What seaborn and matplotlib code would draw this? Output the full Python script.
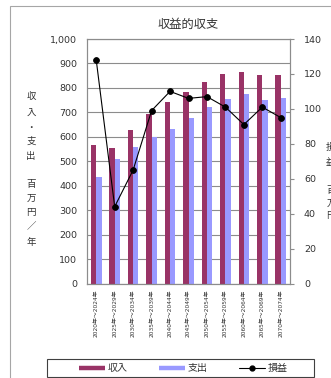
import matplotlib
matplotlib.use("Agg")
import matplotlib.pyplot as plt
from matplotlib.lines import Line2D
from matplotlib.patches import Rectangle
from matplotlib.ticker import FuncFormatter
import numpy as np
import pandas as pd
import seaborn as sns

# 5-year periods
periods = ["2020年～2024年", "2025年～2029年", "2030年～2034年", "2035年～2039年",
           "2040年～2044年", "2045年～2049年", "2050年～2054年", "2055年～2059年",
           "2060年～2064年", "2065年～2069年", "2070年～2074年"]
# revenue / expenditure (million yen per year)
revenue = [566, 553, 627, 695, 744, 785, 825, 856, 866, 853, 853]
expense = [437, 508, 560, 600, 632, 678, 722, 755, 776, 752, 757]
# profit / loss (million yen)
profit = [128, 44, 65, 99, 110, 106, 107, 101, 91, 101, 95]

series_names = ["収入", "支出"]
line_name = "損益"
title = "収益的収支"
left_label = "収入・支出　百万円／年"
right_label = "損益　百万円"

RED = "#993366"
BLUE = "#9999FF"
GRID = "#8c8c8c"
TXT = "#333333"

sns.set_style("white")
plt.rcParams["font.family"] = ["DejaVu Sans", "Noto Sans CJK JP"]

df = pd.DataFrame({
    "期間": periods * 2,
    "金額": revenue + expense,
    "区分": [series_names[0]] * len(periods) + [series_names[1]] * len(periods),
})

W, H = 331, 378
fig = plt.figure(figsize=(W / 100, H / 100), dpi=100)
ax = fig.add_axes([87 / W, 1 - 283.5 / H, 203 / W, 244.5 / H])

sns.barplot(data=df, x="期間", y="金額", hue="区分", order=periods,
            hue_order=series_names, palette=[RED, BLUE], saturation=1,
            width=0.58, linewidth=0, errorbar=None, legend=False, ax=ax)

ax.set_ylim(0, 1000)
ax.set_yticks(np.arange(0, 1001, 100))
ax.yaxis.set_major_formatter(FuncFormatter(lambda v, p: f"{int(v):,}"))
ax.set_xlim(-0.5, len(periods) - 0.5)
ax.set_axisbelow(True)
ax.yaxis.grid(True, color=GRID, lw=0.8)
ax.set_xlabel("")
ax.set_ylabel("")
ax.tick_params(axis="y", length=0, pad=7, labelsize=6.8, labelcolor=TXT)
ax.tick_params(axis="x", which="major", length=0, pad=4.5, labelsize=4.2,
               labelcolor=TXT, rotation=90)
ax.set_xticks(np.arange(-0.5, len(periods), 1), minor=True)
ax.tick_params(axis="x", which="minor", length=3, color=GRID, direction="out")

ax2 = ax.twinx()
sns.pointplot(x=periods, y=profit, order=periods, color="black", markers="o",
              errorbar=None, ax=ax2, markersize=4.2, linewidth=0.8)
ax2.set_ylim(0, 140)
ax2.set_yticks(np.arange(0, 141, 20))
ax2.set_xlim(-0.5, len(periods) - 0.5)
ax2.set_ylabel("")
ax2.tick_params(axis="y", length=3, width=0.8, color=GRID, direction="out",
                pad=7, labelsize=6.8, labelcolor=TXT)

for a in (ax, ax2):
    for s in a.spines.values():
        s.set_visible(True)
        s.set_color(GRID)
        s.set_linewidth(0.8)

ax.set_title(title, fontsize=8.8, color=TXT, pad=8,
             family=["Noto Sans CJK JP", "DejaVu Sans"])

# vertical axis captions, one character per row
cjk = ["Noto Sans CJK JP", "DejaVu Sans"]
left_rows = [96, 113, 128, 141, 157, 184, 198, 213, 227, 242]
for ch, y in zip(left_label.replace("　", ""), left_rows):
    fig.text(31 / W, 1 - y / H, ch, ha="center", va="center", fontsize=6.8,
             color=TXT, family=cjk)
right_rows = [147, 162, 190, 203, 215]
for ch, y in zip(right_label.replace("　", ""), right_rows):
    fig.text(331 / W, 1 - y / H, ch, ha="center", va="center", fontsize=6.8,
             color=TXT, family=cjk)

# chart area border
fig.add_artist(Rectangle((10 / W, -0.1), 1.0, 1 - 6 / H + 0.1,
                         transform=fig.transFigure, fill=False,
                         edgecolor="#a6a6a6", lw=0.8))

# legend with its own frame
fig.add_artist(Rectangle((46.7 / W, 1 - 377.3 / H), 267.3 / W, 18 / H,
                         transform=fig.transFigure, fill=False,
                         edgecolor="#404040", lw=0.8))
handles = [
    Line2D([], [], color=RED, lw=3.2, solid_capstyle="butt"),
    Line2D([], [], color=BLUE, lw=3.2, solid_capstyle="butt"),
    Line2D([], [], color="black", lw=0.8, marker="o", markersize=3.5),
]
fig.legend(handles, series_names + [line_name], loc="center",
           bbox_to_anchor=(183.5 / W, 1 - 368 / H), ncol=3, frameon=False,
           fontsize=7.2, handlelength=2.6, handletextpad=0.3,
           columnspacing=3.1, borderpad=0, borderaxespad=0,
           prop={"family": cjk, "size": 7.2}, labelcolor=TXT)

fig.savefig("out.png", dpi=100)
